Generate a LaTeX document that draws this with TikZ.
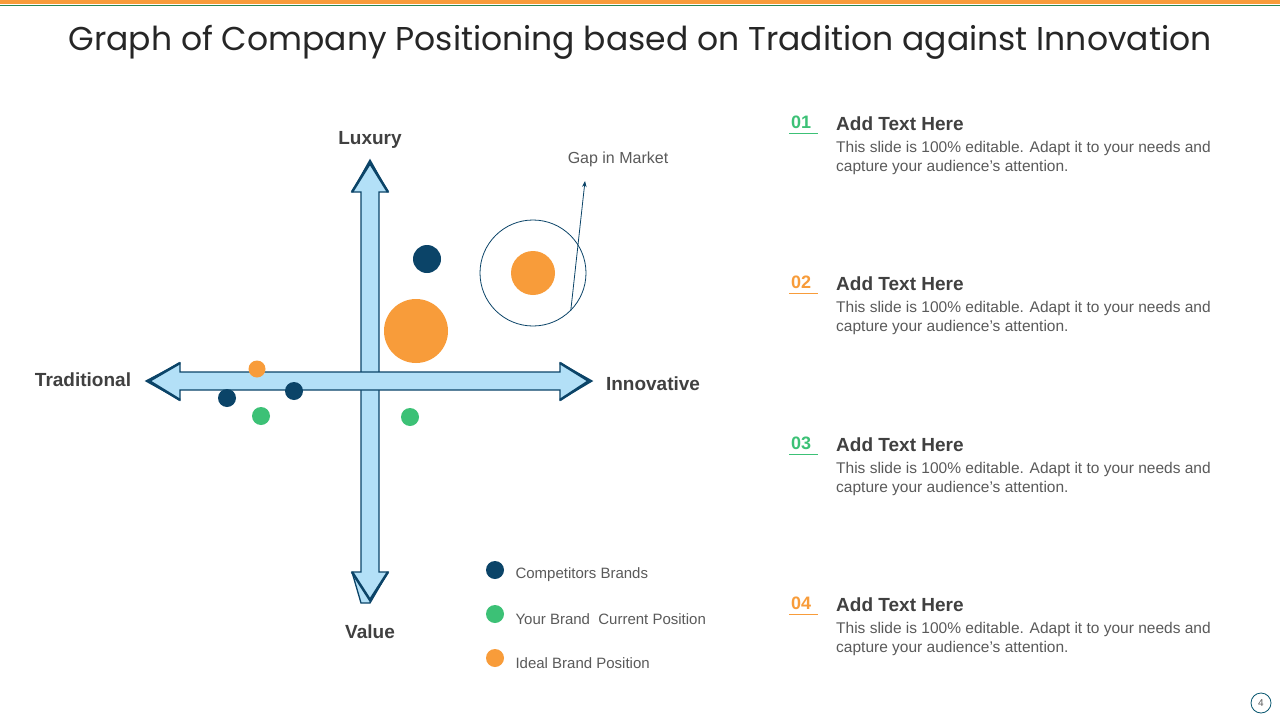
\documentclass[tikz,border=0pt]{standalone}
\usepackage{fontspec}
\usetikzlibrary{arrows.meta}
\setmainfont{Liberation Sans}
\newfontfamily\titlefont{Poppins}
\definecolor{navy}{HTML}{0B4468}
\definecolor{lblue}{HTML}{B3E0F7}
\definecolor{orng}{HTML}{F89C3A}
\definecolor{grn}{HTML}{3CC176}
\definecolor{txt}{HTML}{404040}
\definecolor{body}{HTML}{5A5A5A}
\begin{document}
\begin{tikzpicture}[x=1pt,y=-1pt,
  dot/.style={circle,inner sep=0pt,minimum size=#1},
  axlbl/.style={font=\fontsize{19}{22}\selectfont\bfseries,text=txt},
  leg/.style={font=\fontsize{15}{18}\selectfont,text=body,anchor=west},
  num/.style={font=\fontsize{18}{20}\selectfont\bfseries,anchor=west,inner sep=0pt},
  head/.style={font=\fontsize{19}{22}\selectfont\bfseries,text=txt,anchor=west,inner sep=0pt},
  bodyt/.style={font=\fontsize{15.5}{19}\selectfont,text=body,anchor=north west,inner sep=0pt,align=left}]
\useasboundingbox (0,0) rectangle (1280,720);
\fill[white] (0,0) rectangle (1280,720);
\fill[orng] (0,0) rectangle (1280,4);
\fill[grn!70!black] (0,4.5) rectangle (1280,5.5);
\node[font=\titlefont\fontsize{33}{38}\selectfont,text=black!85] (title) at (640,42) {Graph of Company Positioning based on Tradition against Innovation};
% axes
\draw[navy,line width=1.3pt,fill=lblue,line join=miter]
 (361,603) -- (352,572) -- (361,572) -- (361,192) -- (352,192) -- (370,160) -- (388,192) -- (379,192) -- (379,572) -- (388,572) -- (370,603) -- cycle;
\draw[navy,line width=1.3pt,fill=lblue,line join=miter]
 (146,381) -- (180,363) -- (180,372) -- (560,372) -- (560,363) -- (592,381) -- (560,400) -- (560,390) -- (180,390) -- (180,400) -- cycle;
\draw[navy,line width=2.5pt] (180,363) -- (149,381) -- (180,400);
\draw[navy,line width=2.5pt] (560,363) -- (589,381) -- (560,400);
\draw[navy,line width=2.5pt] (352,192) -- (370,163) -- (388,192);
\draw[navy,line width=2.5pt] (352,572) -- (370,600) -- (388,572);
\node[axlbl] (lux) at (370,140) {Luxury};
\node[axlbl] (val) at (370,632) {Value};
\node[axlbl] (trad) at (83,380) {Traditional};
\node[axlbl] (inno) at (653,384) {Innovative};
% dots
\node[dot=28pt,fill=navy] (c1) at (427,259) {};
\node[dot=64pt,fill=orng] (i1) at (416,331) {};
\node[dot=106pt,draw=navy,line width=0.8pt] (gap) at (533,273) {};
\node[dot=44pt,fill=orng] (i2) at (533,273) {};
\node[dot=17pt,fill=orng] (i3) at (257,369) {};
\node[dot=18pt,fill=navy] (c2) at (227,398) {};
\node[dot=18pt,fill=navy] (c3) at (294,391) {};
\node[dot=18pt,fill=grn] (g1) at (261,416) {};
\node[dot=18pt,fill=grn] (g2) at (410,417) {};
\node[font=\fontsize{16}{19}\selectfont,text=body] (gaplbl) at (618,159) {Gap in Market};
\coordinate (gapend) at (585,181);
\draw[navy,line width=0.8pt,-{Stealth[length=6pt]}] (gap.-45) -- (gapend);
% legend
\node[dot=18pt,fill=navy] (l1) at (495,570) {};
\node[dot=18pt,fill=grn] (l2) at (495,614) {};
\node[dot=18pt,fill=orng] (l3) at (495,658) {};
\node[leg] (t1) at (512,575) {Competitors Brands};
\node[leg] (t2) at (512,619) {Your Brand\ \ Current Position};
\node[leg] (t3) at (512,663) {Ideal Brand Position};
% items
\foreach \i/\n/\c/\y in {1/01/grn/124,2/02/orng/284,3/03/grn/445,4/04/orng/605}{
  \node[num,text=\c] (n\i) at (791,\y-2) {\n};
  \draw[\c,line width=1pt] (789,\y+9) -- (818,\y+9);
  \node[head] (h\i) at (836,\y) {Add Text Here};
  \node[bodyt] (b\i) at (836,\y+17) {This slide is 100\% editable. Adapt it to your needs and\\capture your audience's attention.};
}
\node[dot=20pt,draw=navy!70!teal,line width=0.8pt,font=\fontsize{10}{12}\selectfont,text=body] (pg) at (1261,703) {4};
\end{tikzpicture}
\end{document}
